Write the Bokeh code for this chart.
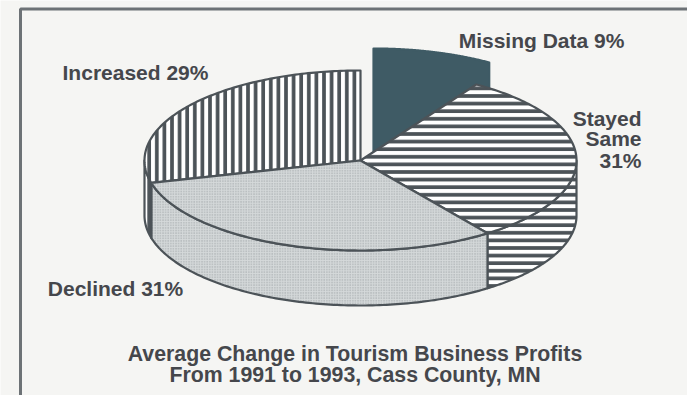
import numpy as np
from bokeh.embed import file_html
from bokeh.models import Range1d
from bokeh.plotting import figure
from bokeh.resources import INLINE
from bokeh.core.properties import value

# Survey shares, in percent, clockwise from twelve o'clock
categories = ["Missing Data", "Stayed Same", "Declined", "Increased"]
shares = [9, 31, 31, 29]

caption = ["Average Change in Tourism Business Profits", "From 1991 to 1993, Cass County, MN"]
caption_y = [353, 374]
center_labels = ["Missing Data 9%", "Increased 29%", "Declined 31%"]
center_x = [541, 135, 115]
center_y = [40, 72, 288]
stacked_labels = ["Stayed", "Same", "31%"]
stacked_y = [118, 138, 160]

W, H = 687, 395
CX, CY, RX, RY, DEPTH = 360.0, 160.0, 216.0, 90.0, 55.0
LIFT_X, LIFT_Y = 13.0, -22.0   # the missing-data slice sits pulled out of the pie

INK = "#4c5358"
PAPER = "#f5f5f3"
TEXT = "#45474c"
STIPPLE = "#d5d9da"
DOTS = "#989ea1"
SOLID = "#3f5b65"

p = figure(width=W, height=H, output_backend="svg", toolbar_location=None,
           x_range=Range1d(0, W), y_range=Range1d(H, 0), min_border=0,
           outline_line_color=None, background_fill_color=PAPER, border_fill_color=PAPER)
p.axis.visible = False
p.grid.visible = False

# Slice boundaries in degrees, clockwise on screen from the +x direction
edges = -90.0 + np.cumsum([0.0] + [s * 3.6 for s in shares])
spans = {c: (edges[i], edges[i + 1]) for i, c in enumerate(categories)}


def rim(t0, t1, dx=0.0, dy=0.0):
    t = np.radians(np.linspace(t0, t1, 120))
    return CX + RX * np.cos(t) + dx, CY + RY * np.sin(t) + dy


def top_face(t0, t1):
    x, y = rim(t0, t1)
    return np.r_[CX, x], np.r_[CY, y]


def side_face(t0, t1):
    x, y = rim(t0, t1)
    return np.r_[x, x[::-1]], np.r_[y, y[::-1] + DEPTH]


def lifted_face(t0, t1):
    # Arc raised above the pie, walls dropping straight down behind the next slice
    x, y = rim(t0, t1, LIFT_X, LIFT_Y)
    return np.r_[x, x[-1], x[0]], np.r_[y, CY, CY]


def face(x, y, fill, hatch=None, scale=7.6, weight=3.7, hatch_color=INK, line=INK):
    kw = dict(fill_color=fill, line_color=line, line_width=2.2, line_join="round")
    if hatch:
        kw.update(hatch_pattern=hatch, hatch_color=hatch_color, hatch_scale=scale, hatch_weight=weight)
    p.patch(list(x), list(y), **kw)


def stipple(x, y):
    face(x, y, STIPPLE, "dot", scale=2.6, weight=1.0, hatch_color=DOTS)


# Page frame: only the top and left rules fall inside the window
p.line([20, 20, W], [H, 8.5, 8.5], line_color="#6d7276", line_width=3)

# Pulled-out slice goes first so the rest of the pie overlaps it
face(*lifted_face(*spans["Missing Data"]), SOLID, line=SOLID)

# Side walls of the front half
face(*side_face(0.0, spans["Stayed Same"][1]), "white", "horizontal_line")
stipple(*side_face(*spans["Declined"]))
face(*side_face(spans["Declined"][1], 180.0), "white", "vertical_line")

# Upper faces
face(*top_face(*spans["Increased"]), "white", "vertical_line")
face(*top_face(*spans["Stayed Same"]), "white", "horizontal_line")
stipple(*top_face(*spans["Declined"]))

bold = dict(text_font=value("Liberation Sans"), text_font_style="bold", text_color=TEXT,
            text_baseline="middle")
p.text(center_x, center_y, text=center_labels, text_align="center", text_font_size="21px", **bold)
p.text([641] * 3, stacked_y, text=stacked_labels, text_align="right", text_font_size="21px", **bold)
p.text([354.5] * 2, caption_y, text=caption, text_align="center", text_font_size="21.3px", **bold)

open("out.html", "w").write(file_html(p, INLINE))
